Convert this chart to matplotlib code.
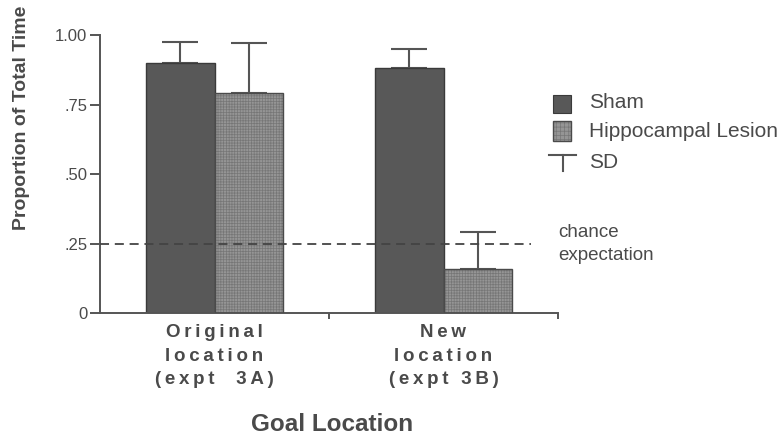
import matplotlib
matplotlib.use("Agg")
import matplotlib.pyplot as plt
import numpy as np
from matplotlib.patches import Rectangle
from matplotlib.lines import Line2D

plt.rcParams['font.family'] = ['Liberation Sans', 'DejaVu Sans']
plt.rcParams['hatch.linewidth'] = 0.5

# Data
groups = ["Original\nlocation\n(expt  3A)", "New\nlocation\n(expt 3B)"]
sham_mean = [0.90, 0.88]
sham_sd = [0.075, 0.07]
lesion_mean = [0.79, 0.16]
lesion_sd = [0.18, 0.13]
chance = 0.25
yticks = [0, 0.25, 0.50, 0.75, 1.00]
ytick_labels = ["0", ".25", ".50", ".75", "1.00"]

TXT = '#4a4a4a'
AX = '#555555'
SHAM_FC = '#585858'
LES_FC = '#959595'
LES_HATCH = '#767676'

W, H = 781, 436
fig = plt.figure(figsize=(W / 100, H / 100), dpi=100)
ax = fig.add_axes([100 / W, 1 - 313 / H, 458 / W, 278 / H])


def spaced(s, sep='\u2009'):
    return "\n".join(sep.join(list(line)) for line in s.split("\n"))


x = np.arange(len(groups))
bw = 0.30

# error bars (upper only), drawn beneath the bars
ax.errorbar(x - bw / 2, sham_mean, yerr=[np.zeros(2), sham_sd], fmt='none',
            ecolor=AX, elinewidth=1.5, capsize=13, capthick=1.5, zorder=1)
ax.errorbar(x + bw / 2, lesion_mean, yerr=[np.zeros(2), lesion_sd], fmt='none',
            ecolor=AX, elinewidth=1.5, capsize=13, capthick=1.5, zorder=1)

ax.bar(x - bw / 2, sham_mean, bw, color=SHAM_FC, edgecolor='#3a3a3a',
       linewidth=1.0, zorder=2)
ax.bar(x + bw / 2, lesion_mean, bw, color=LES_FC, edgecolor=LES_HATCH,
       hatch='++++++', linewidth=0, zorder=2)
ax.bar(x + bw / 2, lesion_mean, bw, fill=False, edgecolor='#4a4a4a',
       linewidth=1.0, zorder=3)

# chance line
ax.axhline(chance, xmin=0, xmax=0.94, color='#444444', lw=1.3,
           linestyle=(0, (5, 3.2)), zorder=4)

ax.set_xlim(-0.5, 1.5)
ax.set_ylim(0, 1.0)
for s in ['top', 'right']:
    ax.spines[s].set_visible(False)
for s in ['left', 'bottom']:
    ax.spines[s].set_color(AX)
    ax.spines[s].set_linewidth(1.4)

ax.set_yticks(yticks)
ax.set_yticklabels(ytick_labels, fontsize=12, color=TXT)
ax.tick_params(axis='y', direction='out', length=7, width=1.4, color=AX, pad=2)

ax.set_xticks(x)
ax.set_xticklabels([spaced(g) for g in groups], fontsize=13.5, fontweight='bold',
                   color=TXT, linespacing=1.5)
ax.tick_params(axis='x', which='major', length=0, pad=8)
ax.set_xticks([0.5, 1.5], minor=True)
ax.tick_params(axis='x', which='minor', direction='out', length=4, width=1.4,
               color=AX)

# axis titles
fig.text(22 / W, 1 - 118 / H, "Proportion of Total Time", rotation=90,
         ha='center', va='center', fontsize=14, fontweight='bold', color=TXT)
fig.text(332 / W, 1 - 424 / H, "Goal Location", ha='center', va='center',
         fontsize=17.5, fontweight='bold', color=TXT)

# key
tf = fig.transFigure
fig.add_artist(Rectangle((553 / W, 1 - 113 / H), 18 / W, 18 / H, transform=tf,
                         facecolor=SHAM_FC, edgecolor='#3a3a3a', lw=0.8))
fig.add_artist(Rectangle((553 / W, 1 - 141 / H), 18 / W, 20 / H, transform=tf,
                         facecolor=LES_FC, edgecolor=LES_HATCH, hatch='++++', lw=0))
fig.add_artist(Rectangle((553 / W, 1 - 141 / H), 18 / W, 20 / H, transform=tf,
                         fill=False, edgecolor='#4a4a4a', lw=1.0))
fig.add_artist(Line2D([549 / W, 576 / W], [1 - 155 / H, 1 - 155 / H],
                      transform=tf, color=AX, lw=1.5))
fig.add_artist(Line2D([562.5 / W, 562.5 / W], [1 - 155 / H, 1 - 171 / H],
                      transform=tf, color=AX, lw=1.5))
fig.text(589 / W, 1 - 102 / H, "Sham", ha='left', va='center', fontsize=15,
         color=TXT)
fig.text(589 / W, 1 - 131 / H, "Hippocampal Lesion", ha='left', va='center',
         fontsize=15, color=TXT)
fig.text(589 / W, 1 - 162 / H, "SD", ha='left', va='center', fontsize=15,
         color=TXT)
fig.text(558 / W, 1 - 244 / H, "chance\nexpectation", ha='left', va='center',
         fontsize=13.5, color=TXT, linespacing=1.4)

fig.savefig("out.png", dpi=100)
